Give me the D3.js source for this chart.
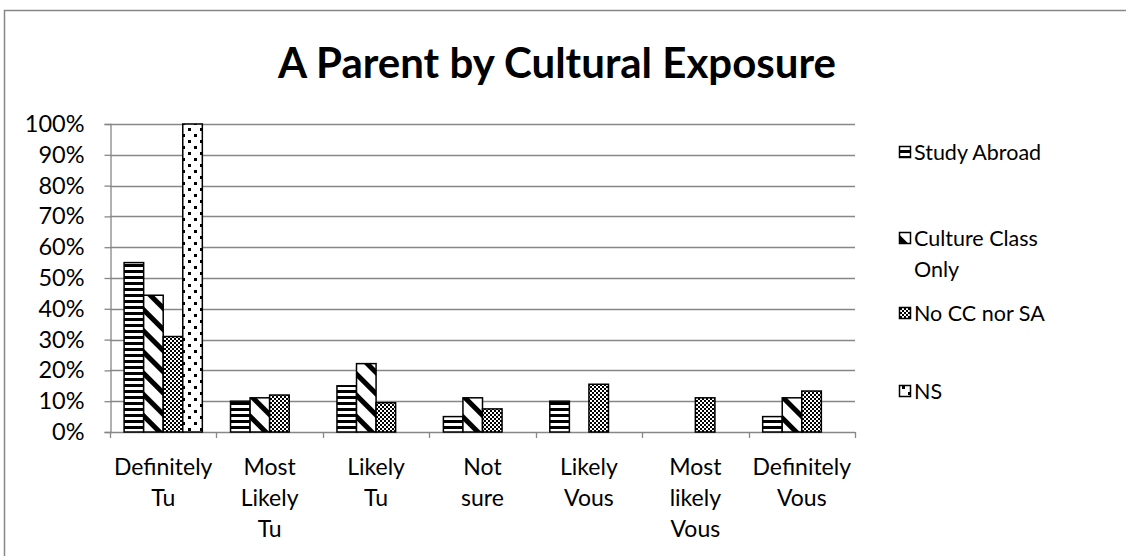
<!DOCTYPE html>
<html>
<head>
<meta charset="utf-8">
<script src="https://cdn.jsdelivr.net/npm/d3@7"></script>
<style>
  html, body { margin: 0; padding: 0; background: #fff; }
  svg { display: block; }
  text { font-family: Lato, "Open Sans", sans-serif; fill: #000; }
</style>
</head>
<body>
<svg id="chart" width="1126" height="556"></svg>
<script>
const title = "A Parent by Cultural Exposure";
const categories = ["Definitely Tu", "Most Likely Tu", "Likely Tu", "Not sure", "Likely Vous", "Most likely Vous", "Definitely Vous"];
const seriesNames = ["Study Abroad", "Culture Class Only", "No CC nor SA", "NS"];
const studyAbroad = [0.55, 0.10, 0.15, 0.05, 0.10, 0, 0.05];
const cultureClassOnly = [0.444, 0.111, 0.222, 0.111, 0, 0, 0.111];
const noCCnorSA = [0.31, 0.12, 0.095, 0.075, 0.155, 0.111, 0.133];
const ns = [1.00, 0, 0, 0, 0, 0, 0];
const yTicks = [0, 0.1, 0.2, 0.3, 0.4, 0.5, 0.6, 0.7, 0.8, 0.9, 1.0];

const seriesValues = [studyAbroad, cultureClassOnly, noCCnorSA, ns];
const patternIds = ["pSA", "pCC", "pNo", "pNS"];

const svg = d3.select("#chart");
const defs = svg.append("defs");

// Patterns
const p1 = defs.append("pattern").attr("id", "pSA").attr("patternUnits", "userSpaceOnUse")
  .attr("width", 8).attr("height", 6);
p1.append("rect").attr("width", 8).attr("height", 6).attr("fill", "#fff");
p1.append("rect").attr("y", 0).attr("width", 8).attr("height", 3).attr("fill", "#000");

const p2 = defs.append("pattern").attr("id", "pCC").attr("patternUnits", "userSpaceOnUse")
  .attr("width", 15).attr("height", 15).attr("patternTransform", "rotate(-45)");
p2.append("rect").attr("width", 15).attr("height", 15).attr("fill", "#fff");
p2.append("rect").attr("x", 0).attr("width", 5).attr("height", 15).attr("fill", "#000");

const p3 = defs.append("pattern").attr("id", "pNo").attr("patternUnits", "userSpaceOnUse")
  .attr("width", 4).attr("height", 4);
p3.append("rect").attr("width", 4).attr("height", 4).attr("fill", "#fff");
p3.append("rect").attr("x", 0).attr("y", 0).attr("width", 2).attr("height", 2).attr("fill", "#000");
p3.append("rect").attr("x", 2).attr("y", 2).attr("width", 2).attr("height", 2).attr("fill", "#000");

const p4 = defs.append("pattern").attr("id", "pNS").attr("patternUnits", "userSpaceOnUse")
  .attr("width", 12).attr("height", 12);
p4.append("rect").attr("width", 12).attr("height", 12).attr("fill", "#fff");
p4.append("rect").attr("x", 2).attr("y", 2).attr("width", 3).attr("height", 3).attr("fill", "#000");
p4.append("rect").attr("x", 8).attr("y", 8).attr("width", 3).attr("height", 3).attr("fill", "#000");

// Outer chart frame
svg.append("rect").attr("x", 4.5).attr("y", 10.5).attr("width", 1140).attr("height", 570)
  .attr("fill", "none").attr("stroke", "#878787").attr("stroke-width", 1.5);

// Title
svg.append("text").attr("x", 557).attr("y", 78).attr("text-anchor", "middle")
  .attr("font-size", 42).attr("font-weight", "bold").text(title);

const plotLeft = 110, plotRight = 855, plotTop = 124, plotBottom = 432;

const x = d3.scaleBand().domain(categories).range([plotLeft, plotRight]).paddingInner(0).paddingOuter(0);
const groupW = x.bandwidth() * 0.735;
const xs = d3.scaleBand().domain(seriesNames).range([0, groupW]).padding(0);
const y = d3.scaleLinear().domain([0, 1]).range([plotBottom, plotTop]);

// Gridlines
svg.append("g").selectAll("line").data(yTicks.slice(1)).join("line")
  .attr("x1", plotLeft).attr("x2", plotRight)
  .attr("y1", d => Math.round(y(d)) + 0.5).attr("y2", d => Math.round(y(d)) + 0.5)
  .attr("stroke", "#878787").attr("stroke-width", 1.3);

// Y axis
const yAxis = d3.axisLeft(y).tickValues(yTicks).tickFormat(d3.format(".0%")).tickSize(6).tickPadding(20);
const gy = svg.append("g").attr("transform", `translate(${plotLeft + 0.5},0)`).call(yAxis);
gy.select(".domain").attr("stroke", "#878787").attr("stroke-width", 1.3);
gy.selectAll(".tick line").attr("stroke", "#878787").attr("stroke-width", 1.3);
gy.selectAll(".tick text").attr("font-size", 23.5).attr("font-family", "Lato, sans-serif").attr("fill", "#000");

// X axis baseline and ticks at category boundaries
const boundaries = categories.map(c => x(c)).concat([plotRight]);
svg.append("line").attr("x1", plotLeft).attr("x2", plotRight)
  .attr("y1", plotBottom + 0.5).attr("y2", plotBottom + 0.5)
  .attr("stroke", "#878787").attr("stroke-width", 1.3);
svg.append("g").selectAll("line").data(boundaries).join("line")
  .attr("x1", d => Math.round(d) + 0.5).attr("x2", d => Math.round(d) + 0.5)
  .attr("y1", plotBottom).attr("y2", plotBottom + 6)
  .attr("stroke", "#878787").attr("stroke-width", 1.3);

// Category labels
const labG = svg.append("g");
categories.forEach(c => {
  const words = c.split(" ");
  const t = labG.append("text").attr("text-anchor", "middle").attr("font-size", 23);
  words.forEach((w, i) => {
    t.append("tspan").attr("x", x(c) + x.bandwidth() / 2).attr("y", 475 + i * 31).text(w);
  });
});

// Bars
const barData = [];
seriesValues.forEach((vals, si) => {
  vals.forEach((v, ci) => {
    if (v > 0) barData.push({ s: seriesNames[si], c: categories[ci], v, si });
  });
});
const offset = (x.bandwidth() - groupW) / 2;
svg.append("g").selectAll("rect").data(barData).join("rect")
  .attr("x", d => x(d.c) + offset + xs(d.s))
  .attr("y", d => y(d.v))
  .attr("width", xs.bandwidth())
  .attr("height", d => y(0) - y(d.v))
  .attr("fill", d => `url(#${patternIds[d.si]})`)
  .attr("stroke", "#000").attr("stroke-width", 1.5);

// Legend
const legendItems = [
  { name: seriesNames[0], lines: ["Study Abroad"], y: 152 },
  { name: seriesNames[1], lines: ["Culture Class", "Only"], y: 238 },
  { name: seriesNames[2], lines: ["No CC nor SA"], y: 313 },
  { name: seriesNames[3], lines: ["NS"], y: 391 }
];
const lg = svg.append("g");
legendItems.forEach((it, i) => {
  lg.append("rect").attr("x", 899.5).attr("y", it.y - 5.5).attr("width", 11).attr("height", 11)
    .attr("fill", `url(#${patternIds[i]})`).attr("stroke", "#000").attr("stroke-width", 1.5);
  const t = lg.append("text").attr("font-size", 21.5);
  it.lines.forEach((l, j) => {
    t.append("tspan").attr("x", 914).attr("y", it.y + 8 + j * 31).text(l);
  });
});
</script>
</body>
</html>
